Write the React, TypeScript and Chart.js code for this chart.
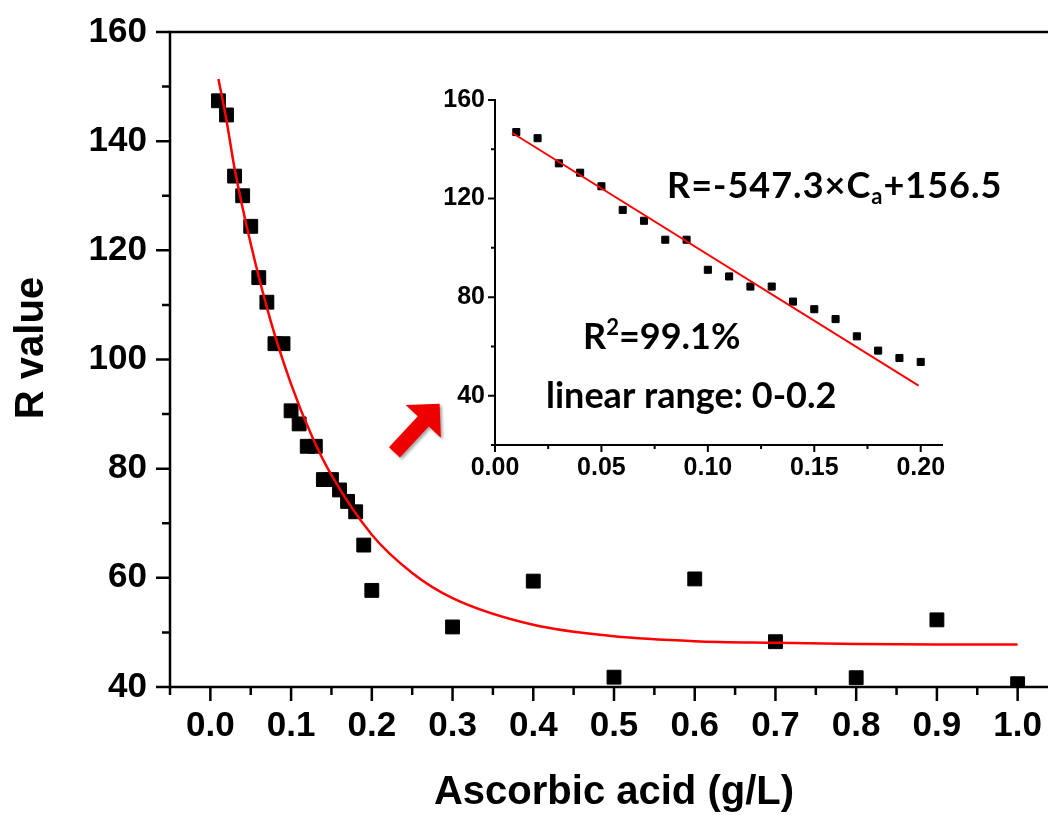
import React, { useEffect, useRef } from "react";
import { Chart, registerables } from "chart.js";

Chart.register(...registerables);

const AX_FONT = '"Liberation Sans", Arial, sans-serif';
const NOTE_FONT = 'Lato, "Open Sans", sans-serif';

// ---- main chart data ----
const mainX = [0.01, 0.02, 0.03, 0.04, 0.05, 0.06, 0.07, 0.08, 0.09, 0.1, 0.11, 0.12, 0.13, 0.14, 0.15, 0.16, 0.17, 0.18, 0.19, 0.2, 0.3, 0.4, 0.5, 0.6, 0.7, 0.8, 0.9, 1.0];
const mainY = [147.4, 144.8, 133.6, 130.0, 124.4, 115.0, 110.5, 102.9, 102.9, 90.6, 88.2, 84.1, 84.1, 78.0, 78.0, 76.1, 74.0, 72.1, 66.0, 57.7, 51.0, 59.4, 41.8, 59.8, 48.3, 41.7, 52.3, 40.6];

// fitted curve
const fitX = [0.01, 0.02, 0.03, 0.05, 0.075, 0.1, 0.125, 0.15, 0.2, 0.25, 0.3, 0.4, 0.5, 0.6, 0.7, 0.8, 0.9, 1.0];
const fitY = [151.4, 143.8, 135.0, 121.2, 106.9, 95.5, 86.2, 78.8, 67.9, 60.9, 56.3, 51.4, 49.3, 48.4, 48.1, 47.9, 47.8, 47.8];

const mainXTicks = [0, 0.1, 0.2, 0.3, 0.4, 0.5, 0.6, 0.7, 0.8, 0.9, 1.0];
const mainXLabels = ["0.0", "0.1", "0.2", "0.3", "0.4", "0.5", "0.6", "0.7", "0.8", "0.9", "1.0"];
const mainXMinor = [-0.05, 0.05, 0.15, 0.25, 0.35, 0.45, 0.55, 0.65, 0.75, 0.85, 0.95, 1.05];
const mainYTicks = [40, 60, 80, 100, 120, 140, 160];
const mainYLabels = ["40", "60", "80", "100", "120", "140", "160"];
const mainYMinor = [50, 70, 90, 110, 130, 150];

// ---- inset data ----
const insetX = [0.01, 0.02, 0.03, 0.04, 0.05, 0.06, 0.07, 0.08, 0.09, 0.1, 0.11, 0.12, 0.13, 0.14, 0.15, 0.16, 0.17, 0.18, 0.19, 0.2];
const insetY = [147.0, 144.5, 134.3, 130.5, 125.0, 115.4, 111.0, 103.3, 103.3, 91.1, 88.4, 84.3, 84.3, 78.2, 75.1, 71.1, 64.1, 58.3, 55.3, 53.7];
const lineX = [0.008, 0.199];
const lineY = [146.7, 44.1];

const insetXTicks = [0, 0.05, 0.1, 0.15, 0.2];
const insetXLabels = ["0.00", "0.05", "0.10", "0.15", "0.20"];
const insetXMinor = [0.025, 0.075, 0.125, 0.175];
const insetYTicks = [40, 80, 120, 160];
const insetYLabels = ["40", "80", "120", "160"];
const insetYMinor = [20, 60, 100, 140];

// arrow (main-chart data coordinates): tail -> tip
const arrowFrom = [0.228, 83.0];
const arrowTo = [0.284, 91.9];

function toPts(xs: number[], ys: number[]) {
  return xs.map((x, i) => ({ x, y: ys[i] }));
}

function drawFrame(chart: any, o: any) {
  const { ctx, chartArea, scales } = chart;
  const { left, right, top, bottom } = chartArea;
  const xs = scales.x;
  const ys = scales.y;
  ctx.save();
  ctx.strokeStyle = "#000";
  ctx.lineWidth = o.lw;
  ctx.lineCap = "square";
  ctx.beginPath();
  ctx.moveTo(left, top);
  ctx.lineTo(left, bottom);
  ctx.lineTo(right, bottom);
  if (o.topBorder) {
    ctx.moveTo(left, top);
    ctx.lineTo(right, top);
  }
  ctx.stroke();
  ctx.lineCap = "butt";
  ctx.beginPath();
  o.xMajor.forEach((v: number) => {
    const p = xs.getPixelForValue(v);
    ctx.moveTo(p, bottom);
    ctx.lineTo(p, bottom + o.majorLen);
  });
  o.xMinor.forEach((v: number) => {
    const p = xs.getPixelForValue(v);
    ctx.moveTo(p, bottom);
    ctx.lineTo(p, bottom + o.minorLen);
  });
  o.yMajor.forEach((v: number) => {
    const p = ys.getPixelForValue(v);
    ctx.moveTo(left, p);
    ctx.lineTo(left - o.majorLen, p);
  });
  o.yMinor.forEach((v: number) => {
    const p = ys.getPixelForValue(v);
    ctx.moveTo(left, p);
    ctx.lineTo(left - o.minorLen, p);
  });
  ctx.stroke();
  ctx.restore();
}

const mainPlugin = {
  id: "mainDecor",
  afterDraw(chart: any) {
    drawFrame(chart, {
      lw: 2.5,
      topBorder: true,
      majorLen: 14,
      minorLen: 8,
      xMajor: mainXTicks,
      xMinor: mainXMinor,
      yMajor: mainYTicks,
      yMinor: mainYMinor,
    });
    const { ctx, scales } = chart;
    ctx.save();
    ctx.fillStyle = "#000";
    ctx.font = `bold 40px ${AX_FONT}`;
    ctx.textAlign = "center";
    ctx.textBaseline = "alphabetic";
    ctx.fillText("Ascorbic acid (g/L)", 614, 804);
    ctx.translate(43, 348);
    ctx.rotate(-Math.PI / 2);
    ctx.fillText("R value", 0, 0);
    ctx.restore();

    // arrow
    const sx = scales.x.getPixelForValue(arrowFrom[0]);
    const sy = scales.y.getPixelForValue(arrowFrom[1]);
    const tx = scales.x.getPixelForValue(arrowTo[0]);
    const ty = scales.y.getPixelForValue(arrowTo[1]);
    const L = Math.hypot(tx - sx, ty - sy);
    const ux = (tx - sx) / L;
    const uy = (ty - sy) / L;
    const nx = -uy;
    const ny = ux;
    const headLen = 24;
    const headW = 24;
    const shaftW = 7.5;
    const bx = tx - ux * headLen;
    const by = ty - uy * headLen;
    ctx.save();
    ctx.shadowColor = "rgba(0,0,0,0.35)";
    ctx.shadowBlur = 3;
    ctx.shadowOffsetX = 2;
    ctx.shadowOffsetY = 2;
    ctx.fillStyle = "#ee0000";
    ctx.beginPath();
    ctx.moveTo(tx, ty);
    ctx.lineTo(bx + nx * headW, by + ny * headW);
    ctx.lineTo(bx + nx * shaftW, by + ny * shaftW);
    ctx.lineTo(sx + nx * shaftW, sy + ny * shaftW);
    ctx.lineTo(sx - nx * shaftW, sy - ny * shaftW);
    ctx.lineTo(bx - nx * shaftW, by - ny * shaftW);
    ctx.lineTo(bx - nx * headW, by - ny * headW);
    ctx.closePath();
    ctx.fill();
    ctx.restore();
  },
};

const insetPlugin = {
  id: "insetDecor",
  afterDraw(chart: any) {
    drawFrame(chart, {
      lw: 2,
      topBorder: false,
      majorLen: 7,
      minorLen: 4,
      xMajor: insetXTicks,
      xMinor: insetXMinor,
      yMajor: insetYTicks,
      yMinor: insetYMinor,
    });
    const { ctx } = chart;
    ctx.save();
    ctx.fillStyle = "#000";
    ctx.textBaseline = "alphabetic";
    ctx.textAlign = "left";
    const big = `bold 36px ${NOTE_FONT}`;
    const small = `bold 22px ${NOTE_FONT}`;
    // equation
    (ctx as any).letterSpacing = "1px";
    let x = 247;
    const y = 138;
    ctx.font = big;
    const p1 = "R=-547.3×C";
    ctx.fillText(p1, x, y);
    x += ctx.measureText(p1).width;
    ctx.font = small;
    ctx.fillText("a", x, y + 6);
    x += ctx.measureText("a").width;
    ctx.font = big;
    ctx.fillText("+156.5", x, y);
    (ctx as any).letterSpacing = "0px";
    // R^2
    let x2 = 163;
    const y2 = 289;
    ctx.fillText("R", x2, y2);
    x2 += ctx.measureText("R").width;
    ctx.font = small;
    ctx.fillText("2", x2, y2 - 14);
    x2 += ctx.measureText("2").width;
    ctx.font = big;
    ctx.fillText("=99.1%", x2, y2);
    // range
    ctx.fillText("linear range: 0-0.2", 126, 348);
    ctx.restore();
  },
};

export default function App() {
  const mainRef = useRef<HTMLCanvasElement | null>(null);
  const insetRef = useRef<HTMLCanvasElement | null>(null);

  useEffect(() => {
    const tickFont = { family: AX_FONT, size: 35, weight: "bold" as const };
    const zeroPadY = (s: any, w: number) => {
      s.width = w;
      s.paddingTop = 0;
      s.paddingBottom = 0;
    };
    const zeroPadX = (s: any, h: number) => {
      s.height = h;
      s.paddingLeft = 0;
      s.paddingRight = 0;
    };
    const main = new Chart(mainRef.current as HTMLCanvasElement, {
      type: "scatter",
      data: {
        datasets: [
          {
            type: "line",
            data: toPts(fitX, fitY),
            borderColor: "#ff0000",
            borderWidth: 2.5,
            pointRadius: 0,
            cubicInterpolationMode: "monotone",
            fill: false,
            order: 0,
          } as any,
          {
            data: toPts(mainX, mainY),
            pointStyle: "rect",
            pointRadius: 9.8,
            backgroundColor: "#000",
            borderColor: "#000",
            borderWidth: 1,
            showLine: false,
            order: 1,
          },
        ],
      },
      options: {
        responsive: false,
        animation: false,
        layout: { padding: { top: 32, left: 0, right: 22, bottom: 0 } },
        plugins: { legend: { display: false }, tooltip: { enabled: false } },
        scales: {
          x: {
            type: "linear",
            min: -0.05,
            max: 1.05,
            grid: { display: false, drawTicks: false },
            border: { display: false },
            afterBuildTicks: (s: any) => {
              s.ticks = mainXTicks.map((v) => ({ value: v }));
            },
            afterFit: (s: any) => zeroPadX(s, 128),
            ticks: {
              font: tickFont,
              color: "#000",
              padding: 18,
              maxRotation: 0,
              minRotation: 0,
              autoSkip: false,
              callback: (_v: any, i: number) => mainXLabels[i],
            },
          },
          y: {
            type: "linear",
            min: 40,
            max: 160,
            grid: { display: false, drawTicks: false },
            border: { display: false },
            afterBuildTicks: (s: any) => {
              s.ticks = mainYTicks.map((v) => ({ value: v }));
            },
            afterFit: (s: any) => zeroPadY(s, 170),
            ticks: {
              font: tickFont,
              color: "#000",
              padding: 23,
              autoSkip: false,
              callback: (_v: any, i: number) => mainYLabels[i],
            },
          },
        },
      },
      plugins: [mainPlugin],
    });

    const insetFont = { family: AX_FONT, size: 25, weight: "bold" as const };
    const inset = new Chart(insetRef.current as HTMLCanvasElement, {
      type: "scatter",
      data: {
        datasets: [
          {
            type: "line",
            data: toPts(lineX, lineY),
            borderColor: "#ff0000",
            borderWidth: 2,
            pointRadius: 0,
            fill: false,
            order: 0,
          } as any,
          {
            data: toPts(insetX, insetY),
            pointStyle: "rect",
            pointRadius: 5,
            backgroundColor: "#000",
            borderColor: "#000",
            borderWidth: 1,
            showLine: false,
            order: 1,
          },
        ],
      },
      options: {
        responsive: false,
        animation: false,
        layout: { padding: { top: 40, left: 0, right: 98, bottom: 0 } },
        plugins: { legend: { display: false }, tooltip: { enabled: false } },
        scales: {
          x: {
            type: "linear",
            min: 0,
            max: 0.21,
            grid: { display: false, drawTicks: false },
            border: { display: false },
            afterBuildTicks: (s: any) => {
              s.ticks = insetXTicks.map((v) => ({ value: v }));
            },
            afterFit: (s: any) => zeroPadX(s, 55),
            ticks: {
              font: insetFont,
              color: "#000",
              padding: 8,
              maxRotation: 0,
              minRotation: 0,
              autoSkip: false,
              callback: (_v: any, i: number) => insetXLabels[i],
            },
          },
          y: {
            type: "linear",
            min: 20,
            max: 160,
            grid: { display: false, drawTicks: false },
            border: { display: false },
            afterBuildTicks: (s: any) => {
              s.ticks = insetYTicks.map((v) => ({ value: v }));
            },
            afterFit: (s: any) => zeroPadY(s, 75),
            ticks: {
              font: insetFont,
              color: "#000",
              padding: 10,
              autoSkip: false,
              callback: (_v: any, i: number) => insetYLabels[i],
            },
          },
        },
      },
      plugins: [insetPlugin],
    });

    return () => {
      main.destroy();
      inset.destroy();
    };
  }, []);

  return (
    <div
      style={{
        position: "fixed",
        left: 0,
        top: 0,
        width: 1048,
        height: 815,
        overflow: "hidden",
        background: "#fff",
      }}
    >
      <canvas
        ref={mainRef}
        width={1080}
        height={815}
        style={{ position: "absolute", left: 0, top: 0, width: 1080, height: 815 }}
      />
      <canvas
        ref={insetRef}
        width={620}
        height={440}
        style={{ position: "absolute", left: 420, top: 60, width: 620, height: 440 }}
      />
    </div>
  );
}
